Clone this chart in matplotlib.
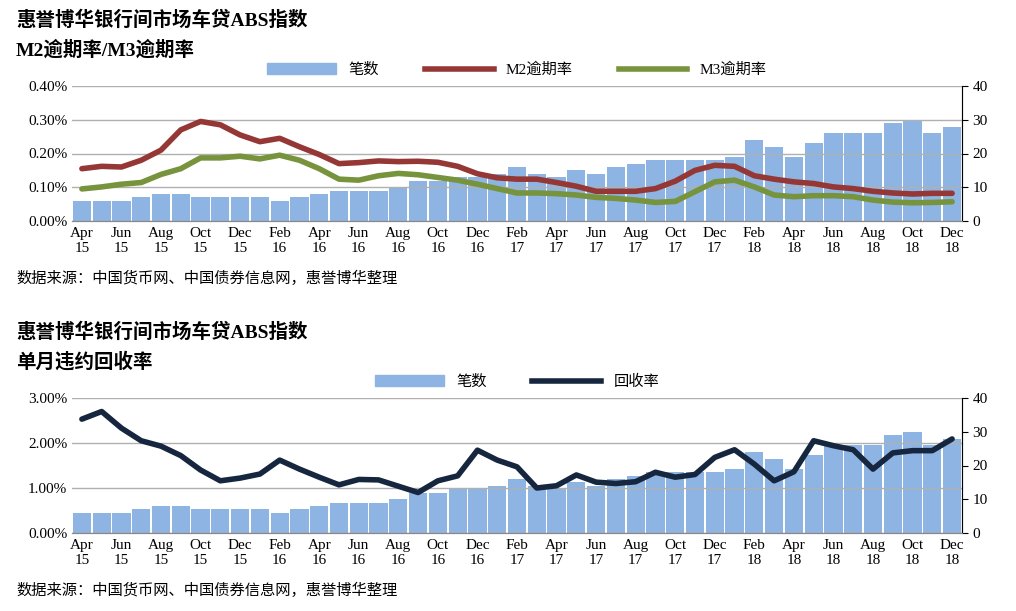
import matplotlib
matplotlib.use("Agg")
import matplotlib.pyplot as plt
from matplotlib.ticker import FuncFormatter, MultipleLocator

plt.rcParams['font.family'] = ['Liberation Serif', 'Noto Sans CJK SC']

mon = ['Apr','May','Jun','Jul','Aug','Sep','Oct','Nov','Dec','Jan','Feb','Mar']
months = []
y, m = 15, 0
for i in range(45):
    months.append(f"{mon[m]}\n{y}")
    m = (m + 1) % 12
    if mon[m] == 'Jan':
        y += 1

counts = [6,6,6,7,8,8,7,7,7,7,6,7,8,9,9,9,10,12,12,13,13,14,16,14,13,15,14,16,17,18,
          18,18,18,19,24,22,19,23,26,26,26,29,30,26,28]
m2 = [0.155,0.162,0.160,0.180,0.210,0.270,0.295,0.285,0.255,0.235,0.245,0.220,0.197,0.170,0.173,
      0.178,0.176,0.177,0.174,0.162,0.140,0.128,0.124,0.124,0.114,0.103,0.088,0.088,0.088,0.096,
      0.118,0.150,0.165,0.162,0.134,0.124,0.116,0.111,0.101,0.096,0.088,0.083,0.080,0.082,0.082]
m3 = [0.095,0.101,0.109,0.114,0.138,0.155,0.187,0.187,0.192,0.184,0.195,0.180,0.155,0.124,0.121,
      0.134,0.141,0.137,0.129,0.121,0.109,0.096,0.083,0.083,0.081,0.077,0.070,0.067,0.062,0.055,
      0.058,0.087,0.116,0.121,0.101,0.077,0.072,0.075,0.075,0.072,0.062,0.056,0.054,0.055,0.057]
recovery = [2.53,2.70,2.33,2.05,1.93,1.72,1.40,1.16,1.22,1.31,1.62,1.42,1.24,1.07,1.19,
            1.18,1.04,0.90,1.16,1.27,1.84,1.62,1.47,1.00,1.05,1.29,1.13,1.10,1.14,1.35,
            1.24,1.30,1.68,1.85,1.53,1.16,1.36,2.05,1.94,1.85,1.42,1.78,1.83,1.83,2.09]

BAR = '#8DB4E2'
fig = plt.figure(figsize=(10.16, 6.11), dpi=100)
W, H = 1016, 611

def panel(top, bottom, lines, lmax, lstep, fmt, title2, legend_items, src_y):
    ax = fig.add_axes([72/W, 1-bottom/H, (962-72)/W, (bottom-top)/H])
    ax2 = ax.twinx()
    x = list(range(len(counts)))
    ax2.bar(x, counts, width=0.92, color=BAR, zorder=1)
    ax.set_zorder(ax2.get_zorder()+1); ax.patch.set_visible(False)
    for vals, col in lines:
        ax.plot(x, vals, color=col, lw=4, solid_capstyle='round', zorder=3)
    ax.set_xlim(-0.5, 44.5)
    ax.set_ylim(0, lmax); ax2.set_ylim(0, 40)
    ax.yaxis.set_major_locator(MultipleLocator(lstep))
    ax.yaxis.set_major_formatter(FuncFormatter(fmt))
    ax2.yaxis.set_major_locator(MultipleLocator(10))
    ax.grid(axis='y', color='#B0B0B0', lw=1)
    ax.set_xticks(x[::2]); ax.set_xticklabels(months[::2])
    ax.tick_params(axis='x', length=0, labelsize=11, pad=4)
    ax.tick_params(axis='y', labelsize=11, length=0)
    ax2.tick_params(axis='y', labelsize=11, length=4, direction='out')
    for a in (ax, ax2):
        for s in ['top', 'left']:
            a.spines[s].set_visible(False)
    ax.spines['bottom'].set_color('#888888'); ax2.spines['bottom'].set_color('#888888')
    ax2.spines['right'].set_color('#888888')
    fig.text(16/W, 1-(top-66)/H, '惠誉博华银行间市场车贷ABS指数', fontsize=14, fontweight='bold', va='center')
    fig.text(16/W, 1-(top-36)/H, title2, fontsize=14, fontweight='bold', va='center')
    fig.text(16/W, 1-src_y/H, '数据来源：中国货币网、中国债券信息网，惠誉博华整理', fontsize=11, va='center')
    handles = [plt.Rectangle((0,0),1,1,color=BAR)] + [plt.Line2D([0],[0],color=c,lw=4) for _, c in lines]
    ax.legend(handles, legend_items, loc='lower center', bbox_to_anchor=(0.5, 1.02), ncol=len(handles),
              frameon=False, fontsize=11, handlelength=4.5, columnspacing=3, borderaxespad=0)
    return ax

panel(86, 221, [(m2, '#953735'), (m3, '#77933C')], 0.40, 0.10, lambda v, p: f"{v:.2f}%",
      'M2逾期率/M3逾期率', ['笔数', 'M2逾期率', 'M3逾期率'], 278)
panel(398, 533, [(recovery, '#17263F')], 3.0, 1.0, lambda v, p: f"{v:.2f}%",
      '单月违约回收率', ['笔数', '回收率'], 590)

fig.savefig('out.png', dpi=100)
